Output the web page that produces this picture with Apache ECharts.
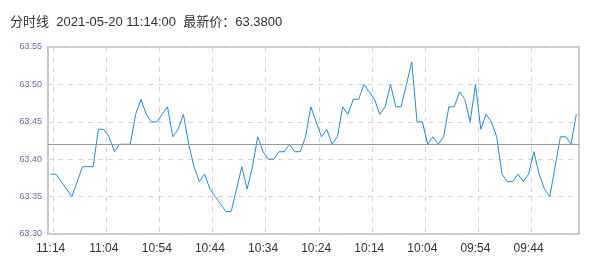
<!DOCTYPE html>
<html>
<head>
<meta charset="utf-8">
<script src="https://cdn.jsdelivr.net/npm/echarts@6/dist/echarts.min.js"></script>
<style>
html,body{margin:0;padding:0;background:#fff;}
#chart{width:601px;height:263px;}
</style>
</head>
<body>
<div id="chart"></div>
<script>
var titleText = '分时线  2021-05-20 11:14:00  最新价：63.3800';

var times = [
  '11:14','11:13','11:12','11:11','11:10','11:09','11:08','11:07','11:06','11:05',
  '11:04','11:03','11:02','11:01','11:00','10:59','10:58','10:57','10:56','10:55',
  '10:54','10:53','10:52','10:51','10:50','10:49','10:48','10:47','10:46','10:45',
  '10:44','10:43','10:42','10:41','10:40','10:39','10:38','10:37','10:36','10:35',
  '10:34','10:33','10:32','10:31','10:30','10:29','10:28','10:27','10:26','10:25',
  '10:24','10:23','10:22','10:21','10:20','10:19','10:18','10:17','10:16','10:15',
  '10:14','10:13','10:12','10:11','10:10','10:09','10:08','10:07','10:06','10:05',
  '10:04','10:03','10:02','10:01','10:00','09:59','09:58','09:57','09:56','09:55',
  '09:54','09:53','09:52','09:51','09:50','09:49','09:48','09:47','09:46','09:45',
  '09:44','09:43','09:42','09:41','09:40','09:39','09:38','09:37','09:36','09:35'
];

var prices = [
  63.38,63.38,63.37,63.36,63.35,63.37,63.39,63.39,63.39,63.44,
  63.44,63.43,63.41,63.42,63.42,63.42,63.46,63.48,63.46,63.45,
  63.45,63.46,63.47,63.43,63.44,63.46,63.42,63.39,63.37,63.38,
  63.36,63.35,63.34,63.33,63.33,63.36,63.39,63.36,63.39,63.43,
  63.41,63.40,63.40,63.41,63.41,63.42,63.41,63.41,63.43,63.47,
  63.45,63.43,63.44,63.42,63.43,63.47,63.46,63.48,63.48,63.50,
  63.49,63.48,63.46,63.47,63.50,63.47,63.47,63.50,63.53,63.45,
  63.45,63.42,63.43,63.42,63.43,63.47,63.47,63.49,63.48,63.45,
  63.50,63.44,63.46,63.45,63.43,63.38,63.37,63.37,63.38,63.37,
  63.38,63.41,63.38,63.36,63.35,63.39,63.43,63.43,63.42,63.46
];

var refPrice = 63.4225;
var yMin = 63.30, yMax = 63.55, yStep = 0.05;

var chart = echarts.init(document.getElementById('chart'), null, {renderer: 'canvas'});
chart.setOption({
  animation: false,
  backgroundColor: '#ffffff',
  title: {
    text: titleText,
    left: 5,
    top: 11,
    textStyle: {
      fontSize: 13,
      fontWeight: 'normal',
      color: '#333',
      fontFamily: '"Liberation Sans", Arial, "Noto Sans CJK SC", sans-serif'
    }
  },
  grid: {
    left: 48, right: 22, top: 47, bottom: 29,
    show: true,
    borderColor: '#c8c8c8',
    borderWidth: 2,
    backgroundColor: 'transparent'
  },
  xAxis: {
    type: 'category',
    data: times,
    boundaryGap: true,
    axisLine: {show: false},
    axisTick: {show: false},
    axisLabel: {
      interval: 9,
      color: '#333',
      fontSize: 12,
      margin: 9,
      fontFamily: '"Liberation Sans", Arial, sans-serif'
    },
    splitLine: {
      show: true,
      interval: function (index) { return index % 10 === 1; },
      lineStyle: {color: '#d4d4d4', width: 1, type: [5, 5]}
    }
  },
  yAxis: {
    type: 'value',
    min: yMin,
    max: yMax,
    interval: yStep,
    axisLine: {show: false},
    axisTick: {show: false},
    axisLabel: {
      color: '#6a6a9c',
      fontSize: 9,
      margin: 6,
      fontFamily: '"Liberation Sans", Arial, sans-serif',
      formatter: function (v) { return v.toFixed(2); }
    },
    splitLine: {
      show: true,
      lineStyle: {color: '#d4d4d4', width: 1, type: [5, 5]}
    }
  },
  series: [{
    type: 'line',
    data: prices,
    showSymbol: false,
    symbol: 'none',
    lineStyle: {color: '#1e8fdc', width: 1},
    itemStyle: {color: '#1e8fdc'},
    markLine: {
      silent: true,
      symbol: 'none',
      label: {show: false},
      lineStyle: {color: '#999999', width: 1, type: 'solid'},
      data: [{yAxis: refPrice}]
    }
  }]
});
</script>
</body>
</html>
